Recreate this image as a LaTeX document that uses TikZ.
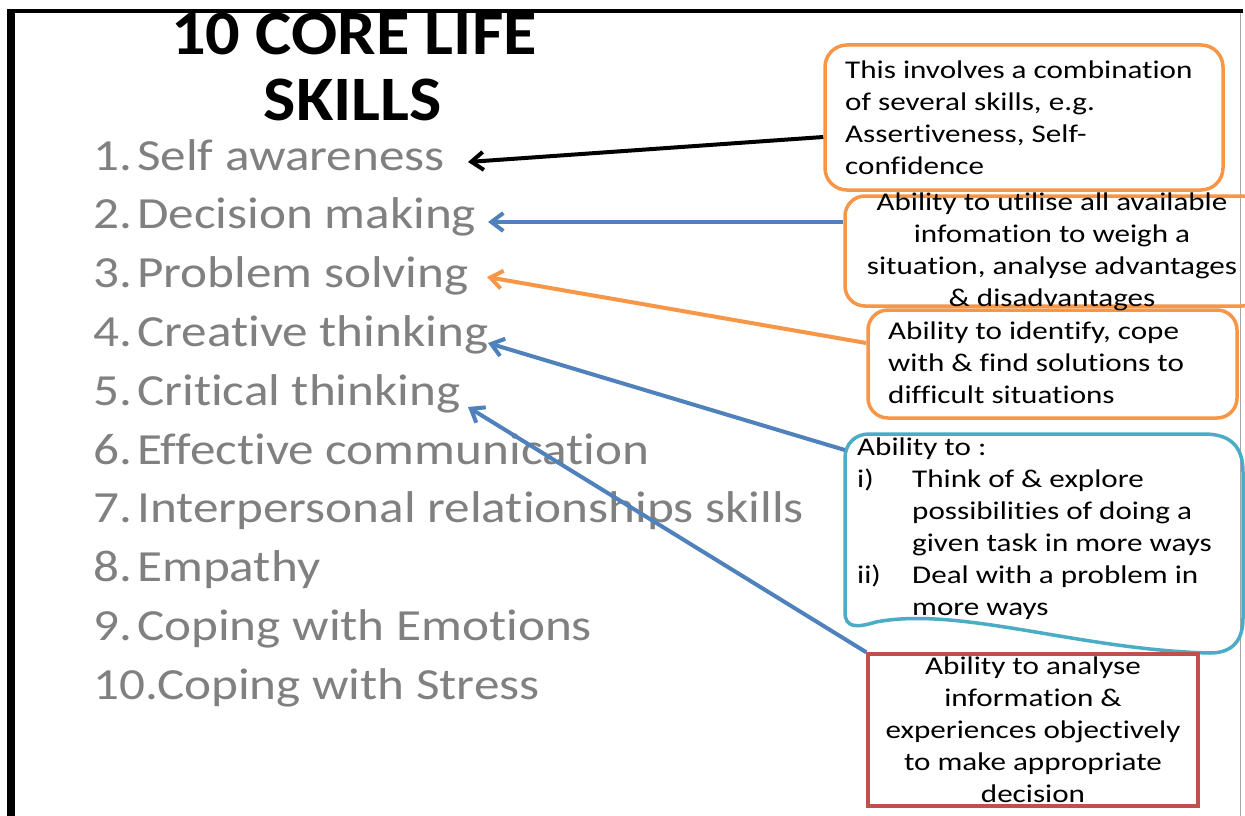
\documentclass[tikz,border=0pt]{standalone}
\usepackage{fontspec}
\setmainfont{Carlito}
\newfontfamily\titlef[FakeStretch=1.08,Ligatures=NoCommon]{Carlito}
\newfontfamily\listf[FakeStretch=1.15,Ligatures=NoCommon]{Carlito}
\newfontfamily\boxf[FakeStretch=1.22,Ligatures=NoCommon]{Carlito}
\usetikzlibrary{arrows.meta}
\definecolor{offorange}{HTML}{F79646}
\definecolor{offblue}{HTML}{4F81BD}
\definecolor{offcyan}{HTML}{4BACC6}
\definecolor{offred}{HTML}{C0504D}
\definecolor{listgray}{HTML}{808080}
\begin{document}
\begin{tikzpicture}[x=1pt,y=-1pt,
  titletext/.style={anchor=base, inner sep=0, font=\titlef\bfseries\fontsize{63.3}{65}\selectfont},
  listitem/.style={anchor=base west, inner sep=0, text=listgray, font=\listf\fontsize{44.5}{50}\selectfont},
  boxtext/.style={inner sep=0, font=\boxf\fontsize{25.5}{32}\selectfont},
  obox/.style={draw=offorange, line width=3.5pt, rounded corners=22pt, inner sep=0},
  conn/.style={line width=4pt, -{Straight Barb[length=12pt,width=18pt]}}]
\useasboundingbox (0,0) rectangle (1245,816);
\fill[white] (0,0) rectangle (1245,816);
% frame
\fill[black] (7,9) rectangle (1243,13);
\fill[black] (7,9) rectangle (15,816);
\draw[black!35, line width=1pt] (1240,13) -- (1240,816);
% title
\node[titletext] (title1) at (354,55) {10 CORE LIFE};
\node[titletext] (title2) at (353,120) {SKILLS};
% list
\node[listitem] (i1) at (93,170) {\makebox[44pt][l]{1.}Self awareness};
\node[listitem] (i2) at (93,228.8) {\makebox[44pt][l]{2.}Decision making};
\node[listitem] (i3) at (93,287.6) {\makebox[44pt][l]{3.}Problem solving};
\node[listitem] (i4) at (93,346.4) {\makebox[44pt][l]{4.}Creative thinking};
\node[listitem] (i5) at (93,405.2) {\makebox[44pt][l]{5.}Critical thinking};
\node[listitem] (i6) at (93,464) {\makebox[44pt][l]{6.}Effective communication};
\node[listitem] (i7) at (93,522.8) {\makebox[44pt][l]{7.}Interpersonal relationships skills};
\node[listitem] (i8) at (93,581.6) {\makebox[44pt][l]{8.}Empathy};
\node[listitem] (i9) at (93,640.4) {\makebox[44pt][l]{9.}Coping with Emotions};
\node[listitem] (i10) at (93,699.2) {10.Coping with Stress};
% boxes
\node[obox, minimum width=398pt, minimum height=145pt] (A) at (1024,117.5) {};
\node[obox, minimum width=417pt, minimum height=110pt, rounded corners=20pt] (B) at (1053.5,251) {};
\node[obox, minimum width=369pt, minimum height=108pt, rounded corners=20pt] (C) at (1052.5,364) {};
\node[minimum width=398pt, minimum height=219pt, inner sep=0] (D) at (1044,543.5) {};
\draw[offcyan, line width=3.5pt] (845,458) -- (845,612)
  .. controls (845,628) and (856,628) .. (876,622)
  .. controls (960,606) and (1080,650) .. (1210,653)
  .. controls (1233,653) and (1243,640) .. (1243,618)
  -- (1243,472) .. controls (1243,446) and (1230,434) .. (1204,434)
  -- (869,434) .. controls (855,434) and (845,444) .. (845,458) -- cycle;
\node[draw=offred, line width=3.5pt, minimum width=330pt, minimum height=152pt, inner sep=0] (E) at (1033,730) {};
% box texts (base anchor = baseline of last line)
\node[boxtext, anchor=base west, align=left] (tA) at (845,174)
  {This involves a combination\\of several skills, e.g.\\Assertiveness, Self-\\confidence};
\node[boxtext, anchor=base, align=center] (tB) at (1052,306)
  {Ability to utilise all available\\infomation to weigh a\\situation, analyse advantages\\\& disadvantages};
\node[boxtext, anchor=base west, align=left] (tC) at (888,403)
  {Ability to identify, cope\\with \& find solutions to\\difficult situations};
\node[boxtext, anchor=base west, align=left] (tD) at (857,615)
  {Ability to :\\\makebox[55pt][l]{i)}Think of \& explore\\\hspace*{55pt}possibilities of doing a\\\hspace*{55pt}given task in more ways\\\makebox[55pt][l]{ii)}Deal with a problem in\\\hspace*{55pt}more ways};
\node[boxtext, anchor=base, align=center] (tE) at (1033,802)
  {Ability to analyse\\information \&\\experiences objectively\\to make appropriate\\decision};
% connector ends
\coordinate (t1) at (468,162);
\coordinate (t2) at (488,222);
\coordinate (t3) at (487,277);
\coordinate (t4) at (488,343);
\coordinate (t5) at (468,407);
% connectors
\draw[conn, black] ([yshift=-19.5pt]A.west) -- (t1);
\draw[conn, offblue] ([yshift=29pt]B.west) -- (t2);
\draw[conn, offorange] ([yshift=21pt]C.west) -- (t3);
\draw[conn, offblue] ([yshift=93.5pt]D.west) -- (t4);
\draw[conn, offblue] (E.north west) -- (t5);
\end{tikzpicture}
\end{document}
